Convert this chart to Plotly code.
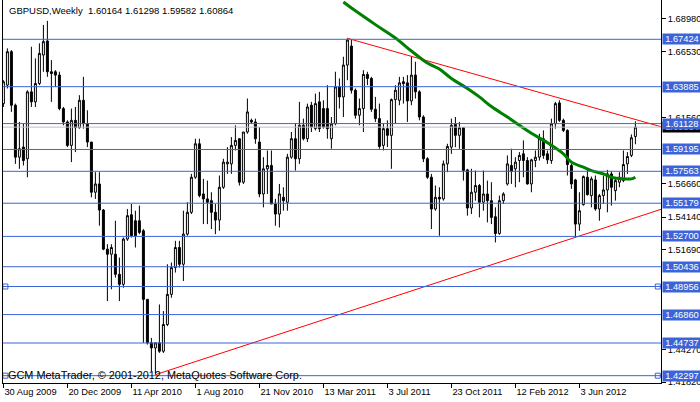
import pandas as pd
import plotly.graph_objects as go

# ---------------- data ----------------
start_week = "2009-08-30"
n_weeks = 159

open_ = [1.6262,1.6400,1.6650,1.6250,1.5862,1.5937,1.5850,1.6350,1.6275,1.6412,
         1.6625,1.6730,1.6500,1.6500,1.6475,1.6225,1.6125,1.5950,1.6137,1.6082,
         1.6287,1.6112,1.5975,1.5600,1.5662,1.5467,1.5175,1.5137,1.5137,1.4987,
         1.4912,1.5250,1.5432,1.5387,1.5387,1.5312,1.4800,1.4475,1.4437,1.4475,
         1.4412,1.4612,1.4837,1.5037,1.5187,1.5062,1.5287,1.5450,1.5712,1.5962,
         1.5587,1.5550,1.5537,1.5450,1.5392,1.5637,1.5812,1.5812,1.5950,1.6000,
         1.5675,1.6050,1.6137,1.6125,1.5975,1.5587,1.5775,1.5800,1.5512,1.5437,
         1.5562,1.5525,1.5862,1.6000,1.5850,1.6100,1.6000,1.6250,1.6075,1.6275,
         1.6225,1.6225,1.6000,1.6112,1.6387,1.6312,1.6550,1.6692,1.6362,1.6175,
         1.6225,1.6480,1.6450,1.6220,1.6150,1.5950,1.6075,1.6025,1.6292,1.6287,
         1.6425,1.6417,1.6282,1.6475,1.6350,1.6162,1.5850,1.5712,1.5475,1.5562,
         1.5550,1.5812,1.5937,1.6107,1.6025,1.6082,1.5767,1.5482,1.5600,1.5650,
         1.5525,1.5587,1.5537,1.5417,1.5292,1.5537,1.5662,1.5800,1.5775,1.5837,
         1.5887,1.5837,1.5662,1.5837,1.5862,1.6000,1.5887,1.5837,1.6112,1.6267,
         1.6137,1.6062,1.5800,1.5692,1.5362,1.5507,1.5712,1.5575,1.5692,1.5475,
         1.5575,1.5617,1.5737,1.5612,1.5675,1.5687,1.5812,1.5875,1.60164]

high = [1.6437,1.6675,1.6662,1.6262,1.6125,1.6112,1.6362,1.6687,1.6600,1.6712,
        1.6850,1.6880,1.6587,1.6512,1.6500,1.6237,1.6137,1.6225,1.6237,1.6325,
        1.6462,1.6212,1.5975,1.5750,1.5750,1.5475,1.5212,1.5212,1.5387,1.5112,
        1.5262,1.5475,1.5512,1.5462,1.5500,1.5325,1.4800,1.4512,1.4475,1.4762,
        1.4712,1.5062,1.5075,1.5237,1.5237,1.5462,1.5525,1.5737,1.6000,1.6000,
        1.5700,1.5687,1.5600,1.5512,1.5725,1.5850,1.5937,1.6012,1.6100,1.6000,
        1.6050,1.6300,1.6150,1.6150,1.6087,1.5862,1.5912,1.5912,1.5550,1.5662,
        1.5637,1.5887,1.6050,1.6112,1.6275,1.6150,1.6262,1.6275,1.6337,1.6350,
        1.6287,1.6400,1.6162,1.6500,1.6450,1.6612,1.6750,1.6737,1.6375,1.6300,
        1.6512,1.6500,1.6462,1.6312,1.6262,1.6112,1.6137,1.6300,1.6400,1.6462,
        1.6462,1.6475,1.6612,1.6575,1.6362,1.6175,1.5862,1.5737,1.5650,1.5637,
        1.5837,1.5962,1.6150,1.6162,1.6125,1.6087,1.5775,1.5775,1.5762,1.5662,
        1.5762,1.5687,1.5675,1.5487,1.5575,1.5600,1.5875,1.5925,1.5862,1.5900,
        1.5987,1.5862,1.5850,1.5912,1.6037,1.6062,1.5912,1.6150,1.6275,1.6287,
        1.6150,1.6070,1.5812,1.5700,1.5600,1.5725,1.5767,1.5717,1.5725,1.5587,
        1.5725,1.5767,1.5757,1.5712,1.5750,1.5912,1.5900,1.6032,1.61298]

low = [1.6237,1.6375,1.6200,1.5812,1.5775,1.5800,1.5712,1.6237,1.6237,1.6400,
       1.6500,1.6462,1.6275,1.6387,1.6212,1.6100,1.5937,1.5825,1.5900,1.6075,
       1.6075,1.5937,1.5562,1.5550,1.5350,1.5167,1.4787,1.4875,1.4962,1.4787,
       1.4887,1.5237,1.5262,1.5187,1.5287,1.4475,1.4462,1.4262,1.4237,1.4400,
       1.4400,1.4600,1.4812,1.5000,1.5037,1.4937,1.5275,1.5437,1.5700,1.5562,
       1.5362,1.5362,1.5325,1.5287,1.5312,1.5625,1.5737,1.5737,1.5912,1.5650,
       1.5662,1.6037,1.6112,1.5962,1.5562,1.5487,1.5587,1.5512,1.5350,1.5337,
       1.5462,1.5462,1.5850,1.5762,1.5812,1.5987,1.5975,1.6050,1.6062,1.6050,
       1.6075,1.6000,1.5925,1.6100,1.6225,1.6162,1.6437,1.6337,1.6150,1.6100,
       1.6050,1.6400,1.6200,1.6125,1.5925,1.5912,1.5937,1.5775,1.6112,1.6250,
       1.6262,1.6125,1.6250,1.6300,1.6137,1.5825,1.5700,1.5325,1.5462,1.5275,
       1.5537,1.5750,1.5887,1.5937,1.5925,1.5687,1.5425,1.5437,1.5537,1.5412,
       1.5462,1.5375,1.5362,1.5225,1.5282,1.5512,1.5650,1.5662,1.5637,1.5675,
       1.5712,1.5657,1.5600,1.5787,1.5837,1.5850,1.5812,1.5812,1.6075,1.6125,
       1.6050,1.5725,1.5625,1.5262,1.5312,1.5500,1.5575,1.5487,1.5462,1.5387,
       1.5512,1.5450,1.5500,1.5537,1.5637,1.5675,1.5737,1.5862,1.59582]

close = [1.6425,1.6650,1.6250,1.5862,1.5925,1.5837,1.6350,1.6275,1.6412,1.6637,
         1.6725,1.6500,1.6487,1.6475,1.6225,1.6125,1.5950,1.6137,1.6082,1.6287,
         1.6112,1.5975,1.5600,1.5662,1.5467,1.5175,1.5137,1.5187,1.4987,1.4912,
         1.5250,1.5425,1.5275,1.5275,1.5300,1.4800,1.4475,1.4437,1.4475,1.4412,
         1.4612,1.4837,1.5037,1.5187,1.5062,1.5287,1.5450,1.5712,1.5962,1.5575,
         1.5550,1.5525,1.5450,1.5392,1.5637,1.5825,1.5825,1.5950,1.5987,1.5675,
         1.6050,1.6200,1.6125,1.6000,1.5587,1.5775,1.5800,1.5512,1.5437,1.5587,
         1.5537,1.5862,1.6000,1.5850,1.6100,1.6000,1.6237,1.6087,1.6262,1.6075,
         1.6087,1.6075,1.6112,1.6387,1.6312,1.6550,1.6737,1.6362,1.6175,1.6225,
         1.6480,1.6450,1.6220,1.6150,1.5942,1.6075,1.6025,1.6292,1.6362,1.6417,
         1.6412,1.6282,1.6475,1.6350,1.6162,1.5850,1.5712,1.5475,1.5562,1.5550,
         1.5812,1.5942,1.6100,1.6025,1.6082,1.5762,1.5482,1.5600,1.5650,1.5525,
         1.5587,1.5537,1.5412,1.5292,1.5537,1.5587,1.5812,1.5757,1.5825,1.5875,
         1.5837,1.5662,1.5842,1.5862,1.6000,1.5875,1.5842,1.6112,1.6262,1.6137,
         1.6062,1.5807,1.5662,1.5362,1.5462,1.5717,1.5582,1.5700,1.5475,1.5575,
         1.5617,1.5737,1.5637,1.5687,1.5712,1.5807,1.5867,1.6007,1.60864]

# moving average (green), read at a few weeks
ma_weeks = [85, 88, 93, 98, 102, 106, 109, 112, 116, 119, 122, 126, 129, 132,
            136, 140, 142, 145, 147, 150, 152, 155, 157, 158]
ma_values = [1.7021, 1.6955, 1.6852, 1.6752, 1.6655, 1.6565, 1.6520, 1.6450,
             1.6375, 1.6312, 1.6240, 1.6162, 1.6100, 1.6040, 1.5970, 1.5887,
             1.5825, 1.5787, 1.5762, 1.5737, 1.5712, 1.5700, 1.5700, 1.5712]

# trend lines (red)
res_weeks = [86, 166]
res_prices = [1.6750, 1.6076]
sup_weeks = [38, 166]
sup_prices = [1.4237, 1.5488]

# horizontal levels (blue)
levels = [1.67424, 1.63885, 1.61128, 1.59195, 1.57563, 1.55179, 1.52700,
          1.50436, 1.48956, 1.46860, 1.44737, 1.42297]
current_price = 1.60864
anchor_levels = [1.48956, 1.42297]
anchor_weeks = [0.5, 163.6]

# axis ticks (those not hidden behind level labels)
y_ticks = [1.68980, 1.66530, 1.61560, 1.56660, 1.54140,
           1.51690, 1.44270, 1.41820]
x_tick_every = 16

title_text = "GBPUSD,Weekly  1.60164 1.61298 1.59582 1.60864"
footer_text = "GCM MetaTrader, \u00a9 2001-2012, MetaQuotes Software Corp."

# ---------------- figure ----------------
base = pd.Timestamp(start_week)
def wk(w):
    return base + pd.Timedelta(days=7 * w)

dates = [wk(i) for i in range(n_weeks)]

FONT = "Liberation Sans, Arial, sans-serif"
BLUE = "#3C64D8"

fig = go.Figure()
fig.add_trace(go.Candlestick(
    x=dates, open=open_, high=high, low=low, close=close,
    increasing=dict(line=dict(color="black", width=1), fillcolor="white"),
    decreasing=dict(line=dict(color="black", width=1), fillcolor="black"),
    whiskerwidth=0, hoverinfo="skip", showlegend=False,
))

shapes = []
shapes.append(dict(type="line", xref="paper", x0=0, x1=1, yref="y",
                   y0=current_price, y1=current_price,
                   line=dict(color="#C0C0C0", width=1)))
for lv in levels:
    shapes.append(dict(type="line", xref="paper", x0=0, x1=1, yref="y",
                       y0=lv, y1=lv, line=dict(color=BLUE, width=1)))

fig.add_trace(go.Scatter(x=[wk(w) for w in res_weeks], y=res_prices, mode="lines",
                         line=dict(color="#FF0000", width=1), showlegend=False,
                         hoverinfo="skip"))
fig.add_trace(go.Scatter(x=[wk(w) for w in sup_weeks], y=sup_prices, mode="lines",
                         line=dict(color="#FF0000", width=1), showlegend=False,
                         hoverinfo="skip"))
fig.add_trace(go.Scatter(x=[wk(w) for w in ma_weeks], y=ma_values, mode="lines",
                         line=dict(color="#008000", width=3, shape="spline"),
                         showlegend=False, hoverinfo="skip"))
ax, ay = [], []
for lv in anchor_levels:
    for w in anchor_weeks:
        ax.append(wk(w)); ay.append(lv)
fig.add_trace(go.Scatter(x=ax, y=ay, mode="markers",
                         marker=dict(symbol="square", size=5, color="white",
                                     line=dict(color=BLUE, width=1)),
                         showlegend=False, hoverinfo="skip"))

annotations = []
# price labels on the right
annotations.append(dict(x=1, xref="paper", y=current_price, yref="y",
                        xanchor="left", yanchor="middle", xshift=1,
                        text="1.60864", showarrow=False, bgcolor="black",
                        font=dict(color="white", size=9.3, family=FONT),
                        width=38, height=10, borderpad=0, align="center"))
for lv in levels:
    annotations.append(dict(x=1, xref="paper", y=lv, yref="y",
                            xanchor="left", yanchor="middle", xshift=1,
                            text=f"{lv:.5f}", showarrow=False, bgcolor=BLUE,
                            font=dict(color="white", size=9.3, family=FONT),
                            width=38, height=10, borderpad=0, align="center"))
annotations.append(dict(x=0, xref="paper", y=1, yref="paper", xanchor="left",
                        yanchor="top", xshift=4, yshift=-3, text=title_text,
                        showarrow=False, font=dict(color="black", size=9.5, family=FONT)))
annotations.append(dict(x=0, xref="paper", y=0, yref="paper", xanchor="left",
                        yanchor="bottom", xshift=3, yshift=0, text=footer_text,
                        showarrow=False, font=dict(color="black", size=10.9, family=FONT)))

x_tickvals = [dates[i] for i in range(0, n_weeks, x_tick_every)]
x_ticktext = [f"{d.day} {d.strftime('%b %Y')}" for d in x_tickvals]

fig.update_layout(
    width=700, height=402,
    margin=dict(l=3, r=39, t=0, b=19),
    paper_bgcolor="white", plot_bgcolor="white",
    font=dict(family=FONT, size=9.3, color="black"),
    shapes=shapes, annotations=annotations,
    showlegend=False,
    xaxis=dict(
        type="date", range=[wk(-0.1), wk(164.4)],
        rangeslider=dict(visible=False),
        showgrid=False, zeroline=False,
        showline=True, linecolor="black", linewidth=1, mirror=False,
        ticks="outside", ticklen=4, tickcolor="black",
        tickvals=x_tickvals, ticktext=x_ticktext,
        ticklabelposition="outside right",
        tickfont=dict(size=9.3, family=FONT, color="black"),
    ),
    yaxis=dict(
        side="right", range=[1.4175, 1.7036],
        showgrid=False, zeroline=False,
        showline=True, linecolor="black", linewidth=1, mirror=True,
        ticks="outside", ticklen=4, tickcolor="black",
        tickvals=y_ticks, ticktext=[f"{t:.5f}" for t in y_ticks],
        tickfont=dict(size=9.3, family=FONT, color="black"),
    ),
)

fig.write_html(
    "out.html",
    config={"displayModeBar": False},
    post_script="document.body.style.margin='0px';document.body.style.overflow='hidden';",
)
